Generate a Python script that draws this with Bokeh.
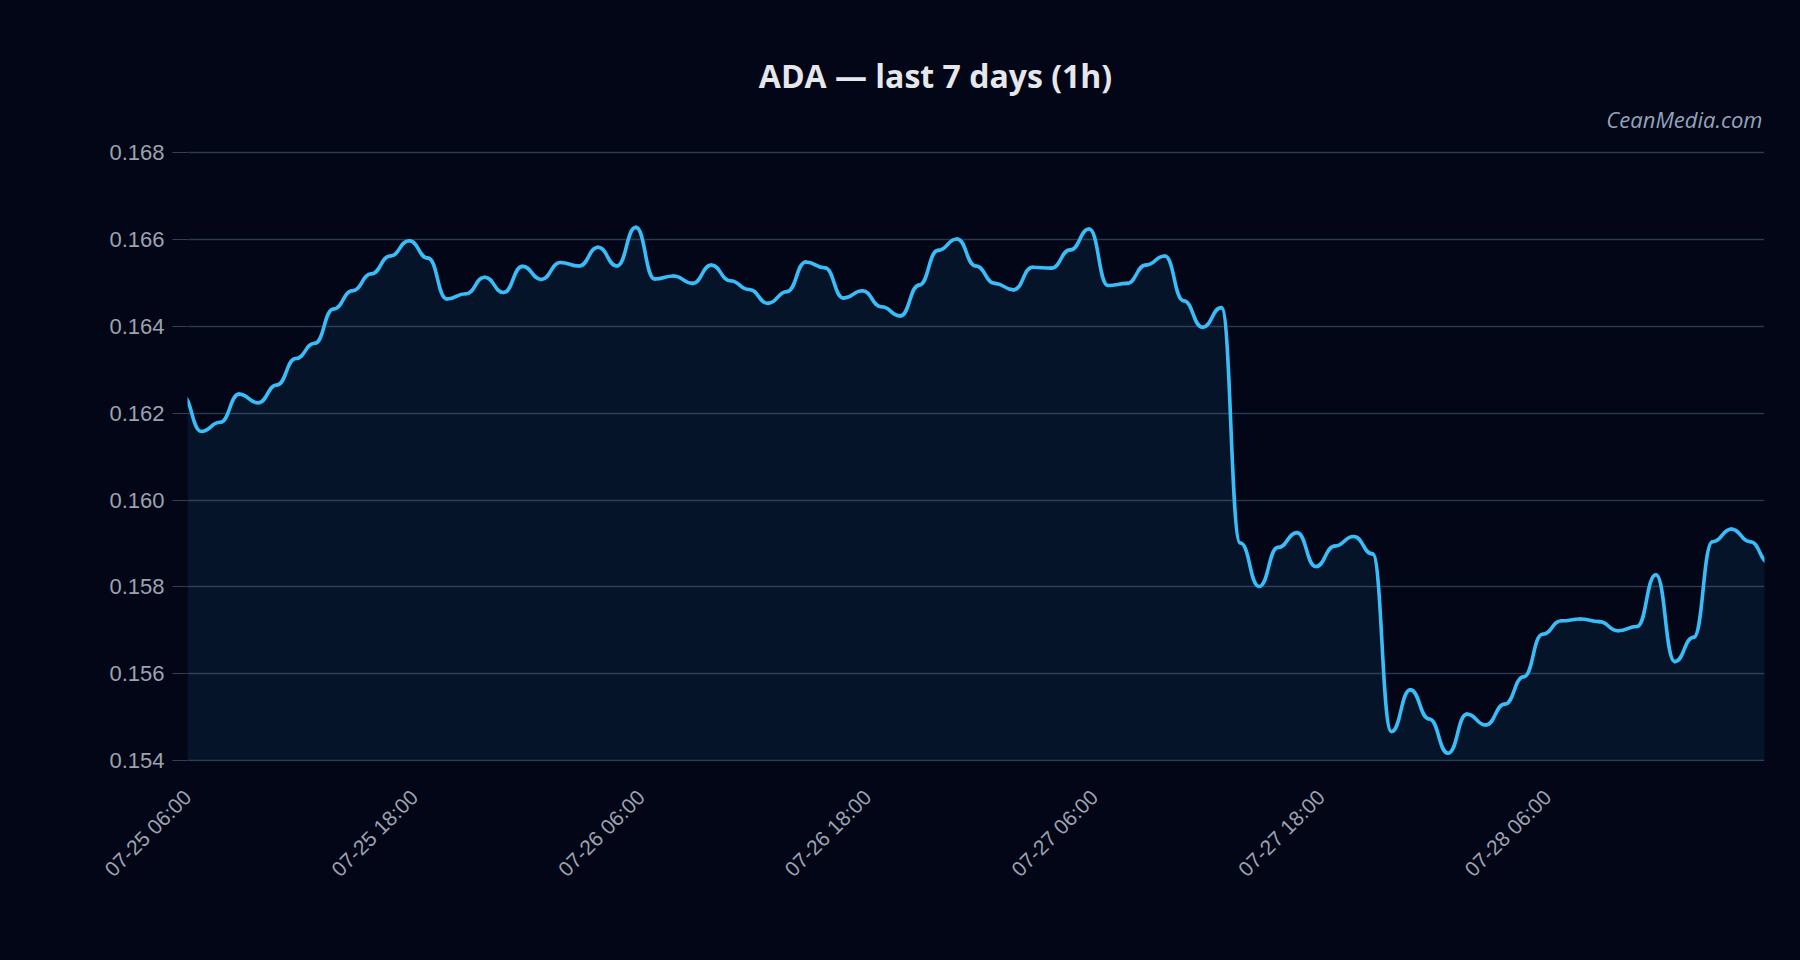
import numpy as np
import pandas as pd
from bokeh.plotting import figure
from bokeh.models import Range1d, FixedTicker, Label, NumeralTickFormatter
from bokeh.embed import file_html
from bokeh.resources import INLINE

# ---------------- data ----------------
title_text = "ADA — last 7 days (1h)"
watermark_text = "CeanMedia.com"

first_time = "2025-07-25 05:44"   # hourly samples
prices = [
    0.16240, 0.16158, 0.16179, 0.16244, 0.16224, 0.16265, 0.16326, 0.16361, 0.16440, 0.16482,
    0.16521, 0.16562, 0.16597, 0.16557, 0.16463, 0.16475, 0.16513, 0.16478, 0.16538, 0.16508,
    0.16547, 0.16539, 0.16582, 0.16539, 0.16628, 0.16509, 0.16516, 0.16499, 0.16541, 0.16505,
    0.16485, 0.16453, 0.16480, 0.16548, 0.16535, 0.16465, 0.16482, 0.16445, 0.16424, 0.16495,
    0.16575, 0.16601, 0.16539, 0.16499, 0.16484, 0.16536, 0.16534, 0.16576, 0.16624, 0.16494,
    0.16499, 0.16541, 0.16562, 0.16459, 0.16398, 0.16443, 0.15901, 0.15801, 0.15891, 0.15925,
    0.15847, 0.15894, 0.15916, 0.15876, 0.15467, 0.15563, 0.15496, 0.15417, 0.15507, 0.15482,
    0.15530, 0.15593, 0.15691, 0.15722, 0.15726, 0.15720, 0.15699, 0.15709, 0.15828, 0.15628,
    0.15684, 0.15904, 0.15933, 0.15904, 0.15856,
]

x_start = "2025-07-25 06:00"
x_end = "2025-07-28 17:29"
x_tick_times = ["2025-07-25 06:00", "2025-07-25 18:00", "2025-07-26 06:00", "2025-07-26 18:00",
                "2025-07-27 06:00", "2025-07-27 18:00", "2025-07-28 06:00"]
x_tick_labels = ["07-25 06:00", "07-25 18:00", "07-26 06:00", "07-26 18:00",
                 "07-27 06:00", "07-27 18:00", "07-28 06:00"]
y_base = 0.154
y_ticks = [0.154, 0.156, 0.158, 0.160, 0.162, 0.164, 0.166, 0.168]
y_tick_labels = ["0.154", "0.156", "0.158", "0.160", "0.162", "0.164", "0.166", "0.168"]

# ---------------- layout / styling ----------------
BG = "#020617"
LINE = "#38bdf8"
GRID = "#334155"
TICK_TXT = "#9ca3af"

FRAME_TOP = 30          # frame extends up to hold the title text
FRAME_BOTTOM = 761
PX_PER_UNIT = 608.0 / 0.014
y_lo = 0.15398
y_hi = y_lo + (FRAME_BOTTOM - FRAME_TOP) / PX_PER_UNIT


def to_ms(s):
    return int(pd.Timestamp(s).value // 10**6)


times = pd.date_range(first_time, periods=len(prices), freq="h")
t_ms = np.array([int(t.value // 10**6) for t in times], dtype=float)
y = np.array(prices, dtype=float)

p = figure(
    width=1800, height=960,
    x_axis_type="datetime",
    x_range=Range1d(to_ms(x_start), to_ms(x_end)),
    y_range=Range1d(y_lo, y_hi),
    output_backend="svg", toolbar_location=None, title=None,
    min_border_left=187, min_border_right=36, min_border_top=FRAME_TOP,
    min_border_bottom=960 - FRAME_BOTTOM,
    background_fill_color=BG, border_fill_color=BG,
)
p.outline_line_color = None
p.styles = {"background-color": BG}

# area under the curve
p.varea(x=t_ms, y1=y_base, y2=y, fill_color=LINE, fill_alpha=0.08)

# smooth line: cubic segments with flat tangents at every sample
x0, x1 = t_ms[:-1], t_ms[1:]
y0, y1 = y[:-1], y[1:]
mid = (x0 + x1) / 2.0
p.bezier(x0=x0, y0=y0, x1=x1, y1=y1, cx0=mid, cy0=y0, cx1=mid, cy1=y1,
         line_color=LINE, line_width=3.6, line_cap="round")

# axes
tick_ms = [to_ms(t) for t in x_tick_times]
p.xaxis.ticker = FixedTicker(ticks=tick_ms)
p.xaxis.major_label_overrides = {ms: lab for ms, lab in zip(tick_ms, x_tick_labels)}
p.xaxis.major_label_orientation = np.pi / 4
p.xaxis.major_label_text_font = "Liberation Sans"
p.xaxis.major_label_text_font_size = "21px"
p.xaxis.major_label_text_color = TICK_TXT
p.xaxis.major_label_standoff = 26
p.xaxis.axis_line_color = None
p.xaxis.major_tick_line_color = None
p.xaxis.minor_tick_line_color = None

p.yaxis.ticker = FixedTicker(ticks=y_ticks)
p.yaxis.formatter = NumeralTickFormatter(format="0.000")
p.yaxis.major_label_overrides = {v: lab for v, lab in zip(y_ticks, y_tick_labels)}
p.yaxis.major_label_text_font = "Liberation Sans"
p.yaxis.major_label_text_font_size = "22px"
p.yaxis.major_label_text_color = TICK_TXT
p.yaxis.major_label_standoff = 8
p.yaxis.axis_line_color = None
p.yaxis.major_tick_in = 0
p.yaxis.major_tick_out = 15
p.yaxis.major_tick_line_color = GRID
p.yaxis.minor_tick_line_color = None

p.xgrid.visible = False
p.ygrid.ticker = FixedTicker(ticks=y_ticks)
p.ygrid.grid_line_color = GRID
p.ygrid.grid_line_alpha = 0.85
p.ygrid.grid_line_width = 1.5

# title and watermark (screen units, measured from the frame's bottom-left corner)
title_lbl = Label(x=748, y=FRAME_BOTTOM - 75, x_units="screen", y_units="screen", text=title_text,
                  text_align="center", text_baseline="alphabetic", text_font="Open Sans",
                  text_font_style="bold", text_font_size="32px", text_color="#e5e7eb")
p.add_layout(title_lbl)
wm_lbl = Label(x=1575, y=FRAME_BOTTOM - 118, x_units="screen", y_units="screen", text=watermark_text,
               text_align="right", text_baseline="alphabetic", text_font="Open Sans",
               text_font_style="italic", text_font_size="22px", text_color="#94a3b8")
p.add_layout(wm_lbl)

open("out.html", "w").write(file_html(p, INLINE))
